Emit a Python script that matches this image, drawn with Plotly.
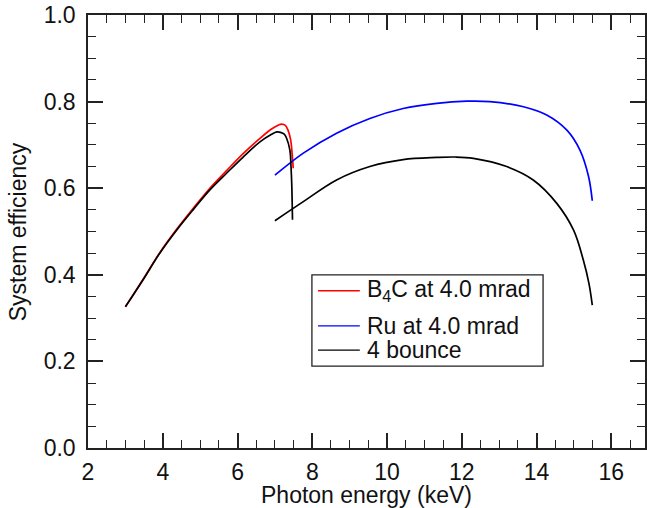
import plotly.graph_objects as go

# B4C at 4.0 mrad (red)
b4c_x = [3.0, 3.47, 3.92, 4.37, 4.81, 5.26, 5.70, 6.15, 6.60, 6.90, 7.10, 7.18, 7.28, 7.35, 7.42, 7.46, 7.49]
b4c_y = [0.326, 0.389, 0.451, 0.505, 0.553, 0.600, 0.640, 0.680, 0.715, 0.736, 0.746, 0.748, 0.745, 0.734, 0.712, 0.680, 0.646]

# Ru at 4.0 mrad (blue)
ru_x = [7.0, 7.76, 8.65, 9.54, 10.43, 11.33, 12.13, 12.75, 13.65, 14.27, 14.81, 15.16, 15.39, 15.49]
ru_y = [0.630, 0.681, 0.727, 0.761, 0.784, 0.796, 0.801, 0.800, 0.788, 0.769, 0.734, 0.688, 0.627, 0.571]

# 4 bounce, low-energy branch (black)
b4_low_x = [3.0, 3.47, 3.92, 4.37, 4.81, 5.26, 5.70, 6.15, 6.60, 6.90, 7.05, 7.15, 7.25, 7.31, 7.40, 7.43, 7.45, 7.47]
b4_low_y = [0.326, 0.388, 0.450, 0.503, 0.550, 0.596, 0.634, 0.672, 0.707, 0.724, 0.730, 0.729, 0.725, 0.716, 0.688, 0.650, 0.611, 0.527]

# 4 bounce, high-energy branch (black)
b4_high_x = [7.0, 7.76, 8.65, 9.54, 10.43, 11.33, 11.82, 12.31, 13.20, 13.91, 14.54, 14.99, 15.25, 15.40, 15.49]
b4_high_y = [0.525, 0.569, 0.619, 0.650, 0.666, 0.671, 0.672, 0.669, 0.650, 0.619, 0.565, 0.503, 0.434, 0.380, 0.330]

series_names = ["B<sub>4</sub>C at 4.0 mrad", "Ru at 4.0 mrad", "4 bounce"]
series_colors = ["#ff0000", "#0000ff", "#000000"]
x_title = "Photon energy (keV)"
y_title = "System efficiency"

font_family = "Liberation Sans, Arial, Helvetica, sans-serif"

fig = go.Figure()
fig.add_trace(go.Scatter(x=b4c_x, y=b4c_y, mode="lines",
                         line=dict(color=series_colors[0], width=1.7, shape="spline"), name=series_names[0]))
fig.add_trace(go.Scatter(x=ru_x, y=ru_y, mode="lines",
                         line=dict(color=series_colors[1], width=1.7, shape="spline"), name=series_names[1]))
fig.add_trace(go.Scatter(x=b4_low_x, y=b4_low_y, mode="lines",
                         line=dict(color=series_colors[2], width=1.7, shape="spline"), name=series_names[2]))
fig.add_trace(go.Scatter(x=b4_high_x, y=b4_high_y, mode="lines",
                         line=dict(color=series_colors[2], width=1.7, shape="spline"), name=series_names[2]))

axis_common = dict(
    showgrid=False, zeroline=False, showline=True, linecolor="#222", linewidth=1.5,
    ticks="inside", mirror="ticks", tickcolor="#222", tickwidth=1.5, ticklen=15,
    tickfont=dict(size=23, color="#111", family=font_family),
    automargin=False, ticklabeloverflow="allow",
)

# legend drawn as a boxed key inside the plot (paper coordinates)
leg_box = dict(x0=0.402, x1=0.817, y0=0.189, y1=0.400)
leg_rows_y = [0.363, 0.282, 0.226]
leg_line_x = (0.413, 0.488)
leg_text_x = 0.497

shapes = [dict(type="rect", xref="paper", yref="paper", **leg_box,
               line=dict(color="#222", width=1.3), fillcolor="white", layer="above")]
annotations = []
for name, color, ry in zip(series_names, series_colors, leg_rows_y):
    shapes.append(dict(type="line", xref="paper", yref="paper", x0=leg_line_x[0], x1=leg_line_x[1],
                       y0=ry, y1=ry, line=dict(color=color, width=1.4), layer="above"))
    annotations.append(dict(text=name, xref="paper", yref="paper", x=leg_text_x, y=ry,
                            xanchor="left", yanchor="middle", showarrow=False,
                            font=dict(size=23, family=font_family, color="#111")))

annotations.append(dict(text=x_title, xref="paper", yref="paper", x=0.5, y=-0.108,
                        xanchor="center", yanchor="middle", showarrow=False,
                        font=dict(size=23, family=font_family, color="#111")))
annotations.append(dict(text=y_title, xref="paper", yref="paper", x=-0.126, y=0.5, textangle=-90,
                        xanchor="center", yanchor="middle", showarrow=False,
                        font=dict(size=23, family=font_family, color="#111")))

fig.update_layout(
    width=647, height=508,
    margin=dict(l=88, r=2, t=15, b=60),
    paper_bgcolor="white", plot_bgcolor="white",
    font=dict(family=font_family, size=23, color="#111"),
    xaxis=dict(range=[2, 16.9], dtick=2, tick0=2, ticklabelstandoff=3,
               minor=dict(dtick=0.5, ticks="inside", ticklen=8, tickcolor="#222", tickwidth=1.2),
               **axis_common),
    yaxis=dict(range=[0, 1.0], dtick=0.2, tickformat=".1f", ticklabelstandoff=6,
               minor=dict(dtick=0.05, ticks="inside", ticklen=8, tickcolor="#222", tickwidth=1.2),
               **axis_common),
    shapes=shapes,
    annotations=annotations,
    showlegend=False,
)

fig.write_html("out.html", config={"displayModeBar": False},
               post_script="document.body.style.margin='0px';document.body.style.overflow='hidden';")
